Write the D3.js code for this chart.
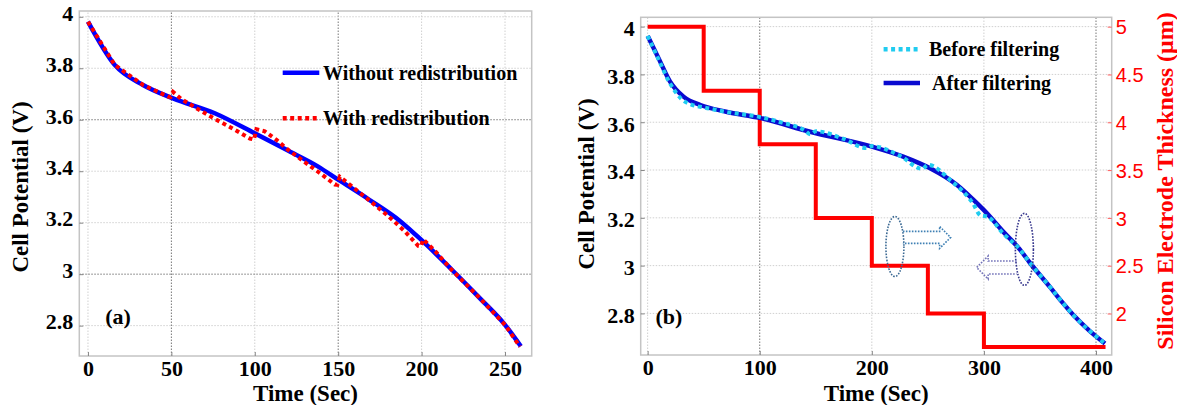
<!DOCTYPE html>
<html>
<head>
<meta charset="utf-8">
<script src="https://cdn.jsdelivr.net/npm/d3@7"></script>
<style>
  body { margin: 0; background: #fff; }
  text { font-family: "Liberation Serif", "Times New Roman", serif; font-weight: bold; fill: #000; }
</style>
</head>
<body>
<svg id="chart" width="1177" height="405"></svg>
<script>
// ---- panel (a): discharge with / without redistribution ----
const aTicksX = [0, 50, 100, 150, 200, 250];
const aTicksY = [2.8, 3, 3.2, 3.4, 3.6, 3.8, 4];
const aTimeWithout = [0, 16, 33, 51, 76, 100, 119, 138, 150, 168, 187, 200, 218, 235, 250, 259.5];
const aWithout = [3.981, 3.813, 3.735, 3.683, 3.625, 3.547, 3.483, 3.418, 3.367, 3.292, 3.207, 3.132, 3.018, 2.906, 2.803, 2.72];
const aTimeWith = [0, 16, 33, 48, 49.5, 51, 56, 65, 75, 85, 97, 99.5, 101, 106, 113, 120, 130, 140, 148, 149.5, 151,
                   158, 168, 180, 190, 198, 199.5, 201, 208, 218, 235, 250, 259];
const aWith = [3.981, 3.813, 3.735, 3.69, 3.688, 3.708, 3.68, 3.645, 3.607, 3.572, 3.527, 3.523, 3.563, 3.555, 3.522,
               3.483, 3.435, 3.388, 3.348, 3.347, 3.378, 3.342, 3.29, 3.226, 3.166, 3.11, 3.108, 3.135, 3.09, 3.017,
               2.906, 2.803, 2.718];
const aLegend = ["Without redistribution", "With redistribution"];

// ---- panel (b): filtering and electrode thickness ----
const bTicksX = [0, 100, 200, 300, 400];
const bTicksY = [2.8, 3, 3.2, 3.4, 3.6, 3.8, 4];
const bTicksR = [2, 2.5, 3, 3.5, 4, 4.5, 5];
const bTimeAfter = [0, 10, 20, 32, 47, 70, 100, 145, 200, 228, 252, 276, 290, 300, 318, 332, 341, 359, 370, 380, 395, 408];
const bAfter = [3.961, 3.865, 3.77, 3.707, 3.672, 3.644, 3.618, 3.56, 3.498, 3.456, 3.407, 3.337, 3.278, 3.232, 3.138,
                3.068, 3.012, 2.91, 2.846, 2.792, 2.724, 2.674];
const bTimeBefore = [0, 10, 20, 30, 40, 50, 70, 100, 120, 140, 145, 150, 175, 195, 200, 225, 245, 250, 270, 290, 297,
                     303, 318, 332, 341, 359, 370, 380, 395, 408];
const bBefore = [3.961, 3.86, 3.762, 3.698, 3.672, 3.662, 3.643, 3.622, 3.598, 3.566, 3.55, 3.562, 3.53, 3.492, 3.5,
                 3.46, 3.405, 3.422, 3.358, 3.262, 3.21, 3.205, 3.13, 3.068, 3.012, 2.91, 2.846, 2.792, 2.724, 2.674];
const bStepTime = [0, 50, 100, 150, 200, 250, 300, 408.5];
const bThickness = [5, 4.33, 3.77, 3.0, 2.5, 2.0, 1.65, 1.65];
const bLegend = ["Before filtering", "After filtering"];

const svg = d3.select("#chart");

// scales
const ax = d3.scaleLinear().domain([-5.2, 266]).range([79.3, 531.7]);
const ay = d3.scaleLinear().domain([2.682, 4.0225]).range([356, 11]);
const bx = d3.scaleLinear().domain([-6.2, 414]).range([640.7, 1111.7]);
const by = d3.scaleLinear().domain([2.626, 4.039]).range([355, 17.3]);
const byR = d3.scaleLinear().domain([1.566, 5.098]).range([355, 17.3]);

const zip = (xs, ys) => xs.map((x, i) => [x, ys[i]]);

// grid + frame for one panel
function frame(g, x, y, ticksX, ticksY, darkX, darkY) {
    const [x0, x1] = x.range(), [y0, y1] = y.range();
    g.append("g").selectAll("line").data(ticksX).join("line")
        .attr("x1", d => x(d)).attr("x2", d => x(d)).attr("y1", y0).attr("y2", y1)
        .attr("stroke", d => darkX.includes(d) ? "#777" : "#d0d0d0")
        .attr("stroke-width", 1).attr("stroke-dasharray", "1.5,1.5");
    g.append("g").selectAll("line").data(ticksY).join("line")
        .attr("y1", d => y(d)).attr("y2", d => y(d)).attr("x1", x0).attr("x2", x1)
        .attr("stroke", d => darkY.includes(d) ? "#777" : "#d0d0d0")
        .attr("stroke-width", 1).attr("stroke-dasharray", "1.5,1.5");
    g.append("rect").attr("x", x0).attr("y", y1).attr("width", x1 - x0).attr("height", y0 - y1)
        .attr("fill", "none").attr("stroke", "#c4c4c4").attr("stroke-width", 1.5);
}

function axes(g, x, y, ticksX, ticksY, labelDy) {
    const [y0] = y.range(), [x0] = x.range();
    const bottom = g.append("g").attr("transform", `translate(0,${y0})`)
        .call(d3.axisBottom(x).tickValues(ticksX).tickSize(-4).tickPadding(4).tickFormat(d3.format("d")));
    const left = g.append("g").attr("transform", `translate(${x0},0)`)
        .call(d3.axisLeft(y).tickValues(ticksY).tickSize(-4).tickPadding(6).tickFormat(d => String(d)));
    [bottom, left].forEach(a => {
        a.select(".domain").remove();
        a.selectAll(".tick line").attr("stroke", "#888");
        a.selectAll(".tick text").attr("font-size", 22)
            .style("font-family", '"Liberation Serif", "Times New Roman", serif').style("font-weight", "bold");
    });
    left.selectAll(".tick text").attr("dy", labelDy);
}

// ================= panel (a) =================
const ga = svg.append("g");
frame(ga, ax, ay, aTicksX, aTicksY, [50, 150], [3.6, 3]);
axes(ga, ax, ay, aTicksX, aTicksY, "0.15em");

ga.append("path")
    .attr("d", d3.line().x(d => ax(d[0])).y(d => ay(d[1])).curve(d3.curveMonotoneX)(zip(aTimeWithout, aWithout)))
    .attr("fill", "none").attr("stroke", "#0000ff").attr("stroke-width", 4.5);
ga.append("path")
    .attr("d", d3.line().x(d => ax(d[0])).y(d => ay(d[1]))(zip(aTimeWith, aWith)))
    .attr("fill", "none").attr("stroke", "#ff0000").attr("stroke-width", 4)
    .attr("stroke-dasharray", "4,3.5");

// legend (a)
const legA = ga.append("g");
legA.selectAll("line").data(aLegend).join("line")
    .attr("x1", 282.7).attr("x2", 319.3)
    .attr("y1", (d, i) => 72.7 + i * 45.6).attr("y2", (d, i) => 72.7 + i * 45.6)
    .attr("stroke", (d, i) => i ? "#ff0000" : "#0000ff").attr("stroke-width", 4.5)
    .attr("stroke-dasharray", (d, i) => i ? "4,3.5" : null);
legA.selectAll("text").data(aLegend).join("text")
    .attr("x", 323).attr("y", (d, i) => 79.5 + i * 45.6)
    .attr("font-size", 20).text(d => d);

ga.append("text").attr("x", ax(18)).attr("y", ay(2.835)).attr("dy", "0.35em")
    .attr("text-anchor", "middle").attr("font-size", 22).text("(a)");

ga.append("text").attr("x", (ax.range()[0] + ax.range()[1]) / 2).attr("y", 401)
    .attr("text-anchor", "middle").attr("font-size", 23).text("Time (Sec)");
ga.append("text").attr("transform", "translate(28,187) rotate(-90)")
    .attr("text-anchor", "middle").attr("font-size", 23).text("Cell Potential (V)");

// ================= panel (b) =================
const gb = svg.append("g");
frame(gb, bx, by, bTicksX, bTicksY, [100, 400], []);
axes(gb, bx, by, bTicksX, bTicksY, "0.4em");

// right axis (thickness)
const right = gb.append("g").attr("transform", `translate(${bx.range()[1]},0)`)
    .call(d3.axisRight(byR).tickValues(bTicksR).tickSize(-4).tickPadding(4).tickFormat(d => String(d)));
right.select(".domain").remove();
right.selectAll(".tick line").attr("stroke", "#ff6060");
right.selectAll(".tick text").attr("font-size", 20).attr("dy", "0.36em")
    .style("font-family", '"Liberation Sans", Arial, sans-serif').style("font-weight", "normal")
    .style("fill", "#ff0000");

gb.append("path")
    .attr("d", d3.line().x(d => bx(d[0])).y(d => byR(d[1])).curve(d3.curveStepAfter)(zip(bStepTime, bThickness)))
    .attr("fill", "none").attr("stroke", "#ff0000").attr("stroke-width", 4);

const lineB = d3.line().x(d => bx(d[0])).y(d => by(d[1])).curve(d3.curveMonotoneX);
gb.append("path").attr("d", lineB(zip(bTimeAfter, bAfter)))
    .attr("fill", "none").attr("stroke", "#0a0ad0").attr("stroke-width", 4.5);
gb.append("path").attr("d", lineB(zip(bTimeBefore, bBefore)))
    .attr("fill", "none").attr("stroke", "#20ccf0").attr("stroke-width", 4)
    .attr("stroke-dasharray", "4,3.5");

// ellipses + hollow arrows pointing to their axes
function hollowArrow(x0, x1, yc, shaft, head, headLen) {
    const dir = Math.sign(x1 - x0), hb = x1 - dir * headLen;
    return `M${x0},${yc - shaft}L${hb},${yc - shaft}L${hb},${yc - head}L${x1},${yc}` +
           `L${hb},${yc + head}L${hb},${yc + shaft}L${x0},${yc + shaft}`;
}
const notes = gb.append("g").attr("fill", "none").attr("stroke-width", 1.6).attr("stroke-dasharray", "1.6,1.4");
notes.append("ellipse").attr("cx", bx(220.6)).attr("cy", by(3.08)).attr("rx", 9).attr("ry", 30)
    .attr("stroke", "#3c6a94");
notes.append("path").attr("d", hollowArrow(bx(227.7), bx(270.3), by(3.118), 6, 11, 11))
    .attr("stroke", "#3f80b4");
notes.append("ellipse").attr("cx", bx(336.1)).attr("cy", by(3.068)).attr("rx", 9).attr("ry", 36)
    .attr("stroke", "#35358c");
notes.append("path").attr("d", hollowArrow(bx(329.2), bx(293.5), by(2.992), 6.5, 11.5, 11.5))
    .attr("stroke", "#7272b8");

// legend (b)
const legB = gb.append("g");
legB.selectAll("line").data(bLegend).join("line")
    .attr("x1", 883.6).attr("x2", 920)
    .attr("y1", (d, i) => 49.3 + i * 33.7).attr("y2", (d, i) => 49.3 + i * 33.7)
    .attr("stroke", (d, i) => i ? "#0a0ad0" : "#20ccf0").attr("stroke-width", 4.5)
    .attr("stroke-dasharray", (d, i) => i ? null : "4,3.5");
legB.selectAll("text").data(bLegend).join("text")
    .attr("x", (d, i) => i ? 932 : 929).attr("y", (d, i) => 56 + i * 33.7)
    .attr("font-size", 20).text(d => d);

gb.append("text").attr("x", bx(19)).attr("y", by(2.79)).attr("dy", "0.35em")
    .attr("text-anchor", "middle").attr("font-size", 22).text("(b)");

gb.append("text").attr("x", (bx.range()[0] + bx.range()[1]) / 2).attr("y", 401)
    .attr("text-anchor", "middle").attr("font-size", 23).text("Time (Sec)");
gb.append("text").attr("transform", "translate(594,184) rotate(-90)")
    .attr("text-anchor", "middle").attr("font-size", 23).text("Cell Potential (V)");
gb.append("text").attr("transform", "translate(1173,181) rotate(-90)")
    .attr("text-anchor", "middle").attr("font-size", 24).style("fill", "#ff0000")
    .text("Silicon Electrode Thickness (μm)");
</script>
</body>
</html>
